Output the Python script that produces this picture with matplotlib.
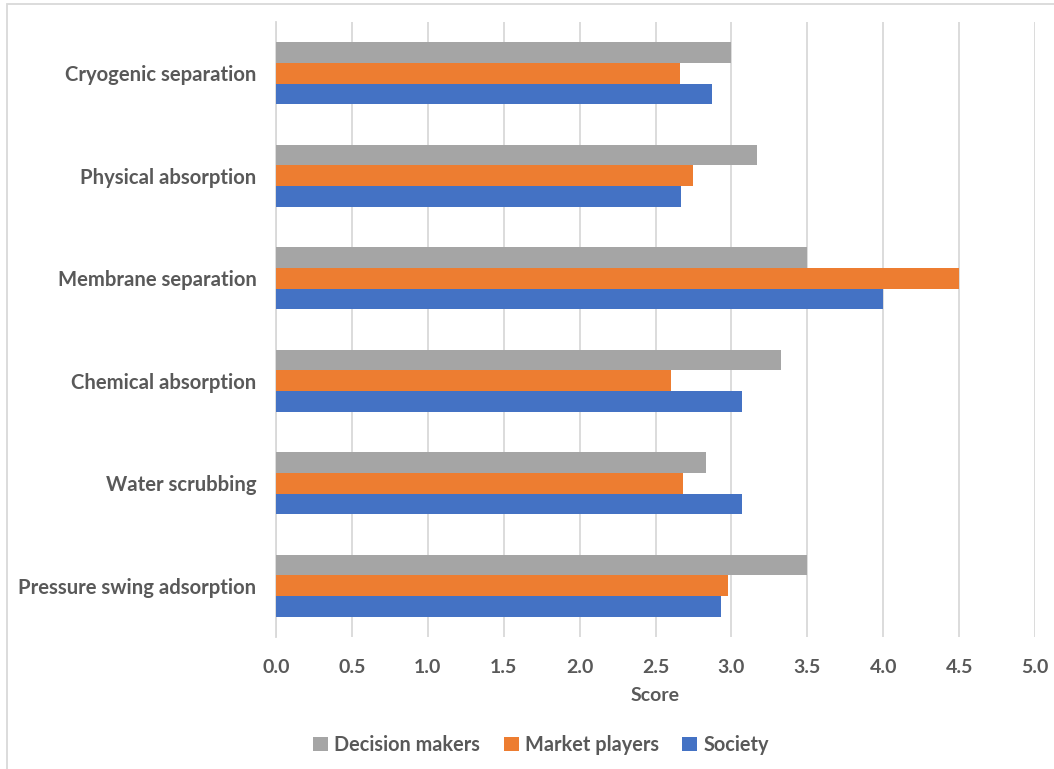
import matplotlib
matplotlib.use("Agg")
import matplotlib.pyplot as plt
import numpy as np
from matplotlib.patches import Rectangle

categories = ["Pressure swing adsorption", "Water scrubbing", "Chemical absorption",
              "Membrane separation", "Physical absorption", "Cryogenic separation"]
decision_makers = [3.50, 2.83, 3.33, 3.50, 3.17, 3.00]
market_players = [2.98, 2.68, 2.60, 4.50, 2.75, 2.66]
society = [2.93, 3.07, 3.07, 4.00, 2.67, 2.87]
series_names = ["Decision makers", "Market players", "Society"]
colors = ["#A5A5A5", "#ED7D31", "#4472C4"]
xticks = [0.0, 0.5, 1.0, 1.5, 2.0, 2.5, 3.0, 3.5, 4.0, 4.5, 5.0]

plt.rcParams['font.family'] = ['Lato', 'DejaVu Sans']
txt = "#595959"
grid = "#D9D9D9"

W, H = 1054, 769
fig = plt.figure(figsize=(W / 100, H / 100), dpi=100)
ax = fig.add_axes([276 / W, 1 - 637 / H, (1035 - 276) / W, (637 - 22) / H])

y = np.arange(len(categories))
h = 0.203
data = [decision_makers, market_players, society]
for i, (vals, name, c) in enumerate(zip(data, series_names, colors)):
    ax.barh(y + (1 - i) * h, vals, height=h, color=c, label=name, zorder=3)

ax.set_xlim(0, 5.0)
ax.set_ylim(-0.5, len(categories) - 0.5)
ax.set_xticks(xticks)
ax.set_xticklabels([f"{v:.1f}" for v in xticks])
ax.set_yticks(y)
ax.set_yticklabels(categories)
ax.grid(axis='x', color=grid, linewidth=1.3, zorder=0)
for s in ["top", "right", "bottom"]:
    ax.spines[s].set_visible(False)
ax.spines["left"].set_color(grid)
ax.spines["left"].set_linewidth(1.3)
ax.tick_params(axis='both', length=0, colors=txt)
ax.tick_params(axis='x', pad=16, labelsize=14)
ax.tick_params(axis='y', pad=14, labelsize=14.6)
for lab in ax.get_xticklabels() + ax.get_yticklabels():
    lab.set_fontweight('bold')
ax.set_xlabel("Score", color=txt, fontsize=14, fontweight='bold', labelpad=8)

handles, labels = ax.get_legend_handles_labels()
leg = fig.legend(handles, labels, loc='center', bbox_to_anchor=(541 / W, 1 - 745 / H),
                 ncol=3, frameon=False, handlelength=0.75, handleheight=0.75,
                 handletextpad=0.3, columnspacing=1.2,
                 prop={'size': 14.3, 'weight': 'bold'})
for t in leg.get_texts():
    t.set_color(txt)

fig.patches.append(Rectangle((7 / W, -0.1), 1.2, 1.1 - 4 / H, transform=fig.transFigure,
                             fill=False, edgecolor="#D9D9D9", linewidth=1.3, zorder=-1))

fig.savefig("out.png", dpi=100, facecolor="white")
